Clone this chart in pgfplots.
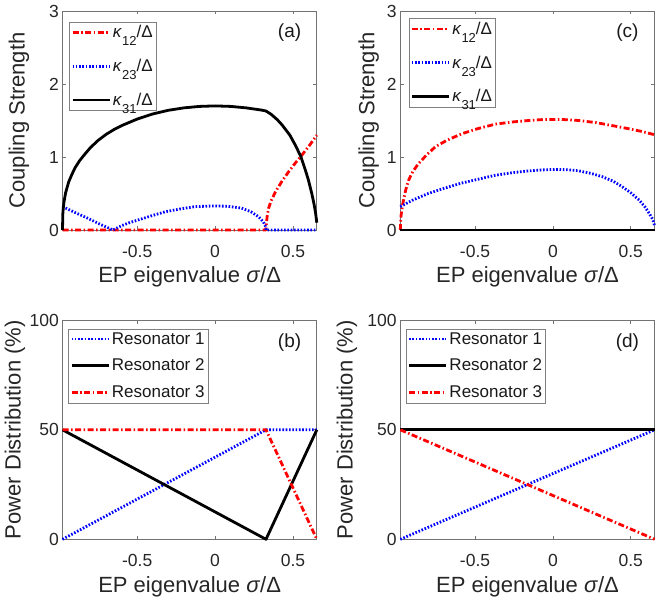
\documentclass[border=0pt]{standalone}
\usepackage{fontspec}
\setmainfont{Liberation Sans}
\usepackage{pgfplots}
\pgfplotsset{compat=1.18}
\definecolor{mred}{rgb}{1,0,0}
\definecolor{mblue}{rgb}{0,0,1}
\pgfplotsset{
  base/.style={
    scale only axis, width=254.3pt, height=219pt, anchor=south west,
    xmin=-0.98, xmax=0.6533, xtick={-0.5,0,0.5},
    clip=false,
    tick align=inside, major tick length=3.5pt,
    axis line style={black!55, line width=0.7pt},
    tick style={black!55, line width=0.7pt},
    /pgf/number format/assume math mode=true,
    xticklabel style={font=\fontsize{17.5}{20}\selectfont, text=black!85, anchor=base, yshift=-27.3pt},
    yticklabel style={font=\fontsize{17.5}{20}\selectfont, text=black!85, anchor=east, inner sep=0pt, xshift=-3.5pt},
    label style={font=\fontsize{22}{26}\selectfont, text=black!85},
    xlabel={EP eigenvalue \textit{σ}/Δ},
    xlabel style={at={(axis description cs:0.5,-0.242)}, anchor=base},
    legend cell align=left,
    legend style={draw=black!50, line width=0.6pt, fill=white, anchor=north west,
      font=\fontsize{17}{20}\selectfont, text=black!90, inner xsep=1.5pt, inner ysep=1.5pt, row sep=9.5pt},
    legend image code/.code={\draw[#1] (0pt,0pt) -- (37pt,0pt);},
  },
  dd/.style={mred, line width=2.8pt, line join=round, dash pattern=on 6pt off 2.5pt on 1.5pt off 2.5pt},
  dt/.style={mblue, line width=2.8pt, line join=round, dash pattern=on 1.6pt off 1.7pt},
  sl/.style={black, line width=2.8pt, line join=round},
}
\newcommand{\kk}[1]{\textit{κ}\raisebox{-8pt}{\fontsize{13}{13}\selectfont #1}/Δ}
\begin{document}
\begin{tikzpicture}
\useasboundingbox (0pt,0pt) rectangle (664pt,598pt);
% (a)
\begin{axis}[base, at={(62.5pt,368pt)}, ymin=0, ymax=3, ytick={0,1,2,3},
  ylabel={Coupling Strength}, ylabel style={at={(axis description cs:-0.171,0.5)}, anchor=center},
  legend style={at={(axis description cs:0.027,0.951)}, row sep=16pt}]
\addplot[dd] coordinates {(-0.98,0) (0.327,0) (0.328,0.05) (0.335,0.2) (0.344,0.30) (0.36,0.40) (0.387,0.52) (0.43,0.67) (0.473,0.80) (0.52,0.93) (0.559,1.03) (0.61,1.17) (0.6533,1.30)};
\addlegendentry{\kk{12}}
\addplot[dt] coordinates {(-0.98,0.32) (-0.9,0.24) (-0.817,0.16) (-0.74,0.08) (-0.656,0) (-0.6,0.06) (-0.55,0.10) (-0.495,0.137) (-0.40,0.20) (-0.32,0.25) (-0.22,0.29) (-0.13,0.32) (0,0.33) (0.08,0.325) (0.17,0.30) (0.23,0.25) (0.28,0.18) (0.31,0.11) (0.322,0.06) (0.327,0) (0.6533,0)};
\addlegendentry{\kk{23}}
\addplot[sl] coordinates {(-0.98,0) (-0.978,0.22) (-0.975,0.30) (-0.97,0.39) (-0.96,0.51) (-0.94,0.66) (-0.92,0.76) (-0.90,0.85) (-0.87,0.95) (-0.84,1.03) (-0.80,1.13) (-0.75,1.23) (-0.70,1.31) (-0.65,1.375) (-0.60,1.43) (-0.50,1.52) (-0.40,1.59) (-0.30,1.64) (-0.20,1.673) (-0.10,1.693) (0,1.70) (0.10,1.693) (0.20,1.673) (0.30,1.642) (0.327,1.63) (0.36,1.585) (0.40,1.51) (0.43,1.44) (0.48,1.30) (0.516,1.16) (0.55,1.01) (0.58,0.82) (0.60,0.68) (0.62,0.51) (0.635,0.36) (0.645,0.24) (0.6533,0.1)};
\addlegendentry{\kk{31}}
\node[font=\fontsize{19}{22}\selectfont, text=black!90] at (axis description cs:0.893,0.90) {(a)};
\end{axis}
% (c)
\begin{axis}[base, at={(400.3pt,368pt)}, ymin=0, ymax=3, ytick={0,1,2,3},
  ylabel={Coupling Strength}, ylabel style={at={(axis description cs:-0.124,0.5)}, anchor=center},
  legend style={at={(axis description cs:0.033,0.967)}, row sep=16pt}]
\addplot[dd] coordinates {(-0.98,0) (-0.975,0.2) (-0.965,0.35) (-0.959,0.41) (-0.945,0.55) (-0.927,0.68) (-0.9,0.80) (-0.863,0.91) (-0.81,1.03) (-0.755,1.14) (-0.68,1.23) (-0.583,1.32) (-0.48,1.39) (-0.369,1.45) (-0.26,1.48) (-0.155,1.50) (-0.05,1.515) (0.05,1.515) (0.167,1.50) (0.28,1.47) (0.382,1.43) (0.48,1.39) (0.57,1.35) (0.6533,1.305)};
\addlegendentry{\kk{12}}
\addplot[dt] coordinates {(-0.98,0.32) (-0.9,0.41) (-0.8,0.50) (-0.7,0.57) (-0.583,0.645) (-0.47,0.70) (-0.369,0.75) (-0.26,0.785) (-0.155,0.81) (-0.05,0.825) (0.017,0.83) (0.1,0.825) (0.167,0.81) (0.245,0.775) (0.318,0.73) (0.39,0.665) (0.447,0.59) (0.50,0.51) (0.554,0.41) (0.59,0.32) (0.618,0.23) (0.64,0.15) (0.6533,0.06)};
\addlegendentry{\kk{23}}
\addplot[sl] coordinates {(-0.98,0) (0.6533,0)};
\addlegendentry{\kk{31}}
\node[font=\fontsize{19}{22}\selectfont, text=black!90] at (axis description cs:0.893,0.90) {(c)};
\end{axis}
% (b)
\begin{axis}[base, at={(62.5pt,58.7pt)}, ymin=0, ymax=100, ytick={0,50,100},
  ylabel={Power Distribution (\%)}, ylabel style={at={(axis description cs:-0.187,0.5)}, anchor=center},
  legend style={at={(axis description cs:0.023,0.962)}}]
\addplot[dt] coordinates {(-0.98,0) (0.327,50) (0.6533,50)};
\addlegendentry{Resonator 1}
\addplot[sl] coordinates {(-0.98,50) (0.327,0) (0.6533,50)};
\addlegendentry{Resonator 2}
\addplot[dd] coordinates {(-0.98,50) (0.327,50) (0.6533,0)};
\addlegendentry{Resonator 3}
\node[font=\fontsize{19}{22}\selectfont, text=black!90] at (axis description cs:0.893,0.90) {(b)};
\end{axis}
% (d)
\begin{axis}[base, at={(400.3pt,58.7pt)}, ymin=0, ymax=100, ytick={0,50,100},
  ylabel={Power Distribution (\%)}, ylabel style={at={(axis description cs:-0.210,0.5)}, anchor=center},
  legend style={at={(axis description cs:0.022,0.962)}}]
\addplot[dt] coordinates {(-0.98,0) (0.6533,50)};
\addlegendentry{Resonator 1}
\addplot[sl] coordinates {(-0.98,50) (0.6533,50)};
\addlegendentry{Resonator 2}
\addplot[dd] coordinates {(-0.98,50) (0.6533,0)};
\addlegendentry{Resonator 3}
\node[font=\fontsize{19}{22}\selectfont, text=black!90] at (axis description cs:0.893,0.90) {(d)};
\end{axis}
\end{tikzpicture}
\end{document}
